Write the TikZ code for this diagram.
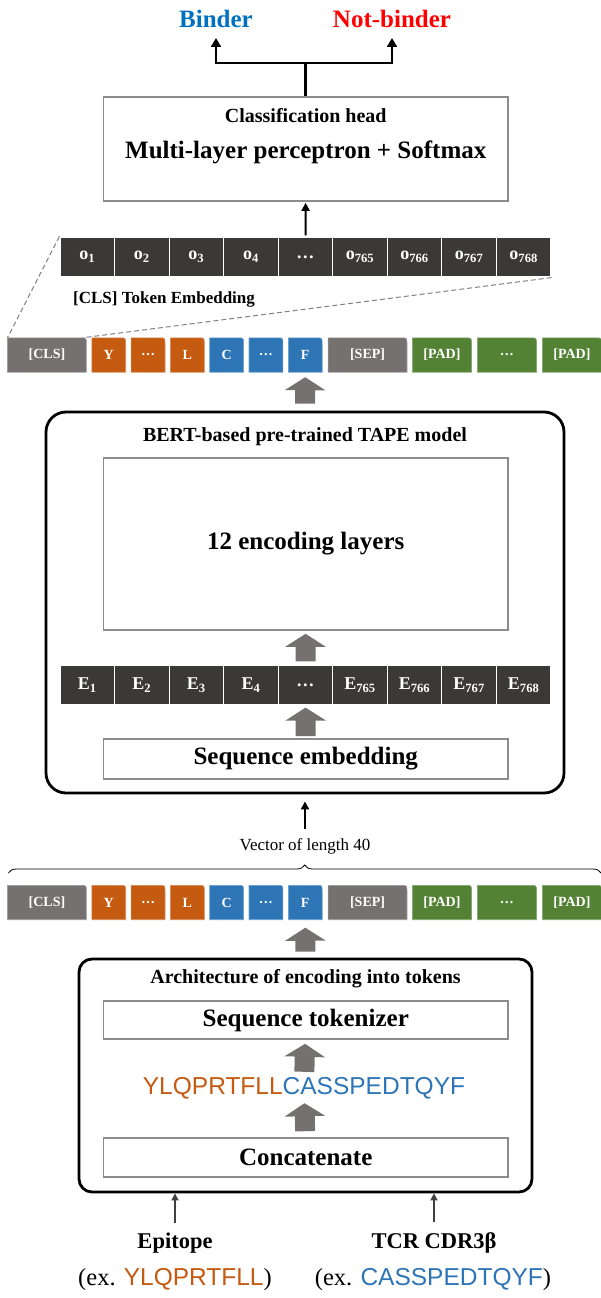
\documentclass[tikz,border=0pt]{standalone}
\usepackage{fontspec}
\setmainfont{Liberation Serif}
\newfontfamily\seqfont{Liberation Sans}
\usetikzlibrary{arrows.meta, positioning, backgrounds, decorations.pathreplacing}
\definecolor{zdark}{HTML}{3B3838}
\definecolor{zgray}{HTML}{767171}
\definecolor{zorange}{HTML}{C55A11}
\definecolor{zblue}{HTML}{2E75B6}
\definecolor{zgreen}{HTML}{548235}
\definecolor{zframe}{HTML}{8C8C8C}
\definecolor{zbinder}{HTML}{0070C0}
\definecolor{znot}{HTML}{FF0000}
\definecolor{zinput}{HTML}{404040}

\newcommand{\fs}[1]{\fontsize{#1}{#1}\selectfont}
% one row of tokens: #1 = name prefix, #2 = centre y
\newcommand{\tokenrow}[2]{%
  \foreach \nm/\x/\w/\col/\lab in {cls/7.7/78.5/zgray/[CLS], y/92/33.5/zorange/Y,
      ydots/131.3/33.5/zorange/\dots, l/170.6/33.5/zorange/L, c/209.9/33.5/zblue/C,
      cdots/249.2/33.5/zblue/\dots, f/288.5/33.5/zblue/F, sep/328.3/78.5/zgray/[SEP],
      pada/412.6/58.7/zgreen/[PAD], pdots/477.6/58.7/zgreen/\dots, padb/542.6/58.7/zgreen/[PAD]} {
    \node[tok, minimum width=\w*1pt] (#1\nm) at (\x+\w/2, #2) {\lab};
    \begin{scope}[on background layer]
      \filldraw[fill=\col, draw=\col!70!white, line width=0.6pt]
        (#1\nm.south west) -- (#1\nm.north west) -- ([xshift=-6pt]#1\nm.north east)
        .. controls (#1\nm.north east) .. ([yshift=-6pt]#1\nm.north east)
        -- (#1\nm.south east) -- cycle;
    \end{scope}
  }%
}

\begin{document}
\begin{tikzpicture}[x=1pt, y=-1pt,
  frame/.style={draw=zframe, line width=1.6pt, minimum width=404.5pt, inner sep=0pt,
                font=\bfseries\fs{25}},
  outer/.style={draw=black, line width=2.8pt},
  cell/.style={fill=zdark, draw=white, line width=1.2pt, minimum width=54.55pt,
               minimum height=40pt, inner sep=0pt, text=white, font=\bfseries\fs{18}},
  tok/.style={minimum height=34pt, inner sep=0pt, text=white, font=\bfseries\fs{14}},
  big/.style={font=\bfseries\fs{25}, inner sep=0pt},
  title/.style={font=\bfseries\fs{20}, inner sep=0pt},
  fat/.style={zgray, line width=20pt, -{Triangle[length=13pt, width=40pt]}},
  thinarr/.style={black, line width=2pt, -{Triangle[length=8pt, width=8pt]}},
  outarr/.style={black, line width=2.6pt, -{Triangle[length=9pt, width=10pt]}},
  inarr/.style={zinput, line width=1.8pt, -{Triangle[length=7pt, width=7pt]}},
  zoomline/.style={gray, line width=1pt, dash pattern=on 5pt off 3pt}
]
\useasboundingbox (0,0) rectangle (601,1298);

% outputs
\node[big, text=zbinder] (binder)    at (216,19) {Binder};
\node[big, text=znot]    (notbinder) at (392,19) {Not-binder};

% classification head
\node[frame, minimum height=104pt] (head) at (305.75,149) {};
\node[title] (headtitle) at (305.75,116) {Classification head};
\node[big]   (mlp)       at (305.75,152) {Multi-layer perceptron + Softmax};
\coordinate (fork) at (305.75,63);
\draw[outarr, shorten >=10pt] (head.north) -- (fork) -| (binder);
\draw[outarr, shorten >=10pt] (head.north) -- (fork) -| (notbinder);

% [CLS] token embedding
\foreach \i/\lab in {1/o\textsubscript{1}, 2/o\textsubscript{2}, 3/o\textsubscript{3},
    4/o\textsubscript{4}, 5/\dots, 6/o\textsubscript{765}, 7/o\textsubscript{766},
    8/o\textsubscript{767}, 9/o\textsubscript{768}}
  \node[cell] (ocell\i) at ({60+54.55*(\i-0.5)},257) {\lab};
\node[font=\bfseries\fs{17}, anchor=west, inner sep=0pt] (clsemb) at (73,299) {[CLS] Token Embedding};
\draw[thinarr, shorten <=1pt, shorten >=1pt] (ocell5) -- (head);

% output tokens
\tokenrow{ta}{355}
\draw[zoomline] (ocell1.north west) -- (tacls.north west);
\draw[zoomline] (ocell9.south east) -- ([xshift=-4pt]tacls.north east);

% TAPE model
\node[outer, rounded corners=20pt, minimum width=518pt, minimum height=381pt] (tape) at (305,602.5) {};
\node[title] (tapetitle) at (305,437) {BERT-based pre-trained TAPE model};
\node[frame, minimum height=172pt] (enc) at (305.75,544) {12 encoding layers};
\foreach \i/\lab in {1/E\textsubscript{1}, 2/E\textsubscript{2}, 3/E\textsubscript{3},
    4/E\textsubscript{4}, 5/\dots, 6/E\textsubscript{765}, 7/E\textsubscript{766},
    8/E\textsubscript{767}, 9/E\textsubscript{768}}
  \node[cell] (ecell\i) at ({60+54.55*(\i-0.5)},685) {\lab};
\node[frame, minimum height=40pt] (seqemb) at (305.75,759) {Sequence embedding};

\draw[fat, shorten <=7pt, shorten >=5pt] (tape.north) -- (taf.south);
\draw[fat, shorten <=3pt, shorten >=3pt] (ecell5) -- (enc);
\draw[fat, shorten <=2pt, shorten >=2pt] (seqemb) -- (ecell5);

% vector of length 40
\node[font=\fs{17}, inner sep=0pt] (veclab) at (305,846) {Vector of length 40};
\draw[thinarr, shorten <=9pt, shorten >=7pt] (veclab) -- (tape);
\coordinate (bl) at (8.4,873);
\coordinate (br) at (601,873);
\draw[decorate, decoration={brace, amplitude=8pt}, line width=0.8pt] (bl) -- (br);

% input tokens
\tokenrow{tb}{902.5}

% encoding into tokens
\node[outer, rounded corners=13pt, minimum width=453pt, minimum height=233pt] (arch) at (305.5,1075.5) {};
\node[title] (archtitle) at (305.5,979) {Architecture of encoding into tokens};
\node[frame, minimum height=38pt] (tokenizer) at (305.75,1020) {Sequence tokenizer};
\node[font=\seqfont\fs{24.5}, inner sep=0pt, text height=18pt, text depth=0pt] (seq) at (304,1085)
  {\textcolor{zorange}{YLQPRTFLL}\textcolor{zblue}{CASSPEDTQYF}};
\node[frame, minimum height=39pt] (concat) at (305.75,1157.5) {Concatenate};

\draw[fat, shorten <=6pt, shorten >=8pt] (arch.north) -- (tbf.south);
\draw[fat, shorten <=4pt, shorten >=4pt] (seq) -- (tokenizer);
\draw[fat, shorten <=6pt, shorten >=9pt] (concat) -- (seq);

% inputs
\node[font=\bfseries\fs{22.5}, inner sep=0pt] (epi) at (175,1243) {Epitope};
\node[font=\bfseries\fs{22.5}, inner sep=0pt] (tcr) at (434,1243) {TCR CDR3β};
\node[font=\fs{24.5}, inner sep=0pt] (epiex) at (175,1280) {(ex. {\seqfont\color{zorange}YLQPRTFLL})};
\node[font=\fs{24.5}, inner sep=0pt] (tcrex) at (433,1280) {(ex. {\seqfont\color{zblue}CASSPEDTQYF})};
\draw[inarr, shorten <=10pt] (epi) -- (epi |- arch.south);
\draw[inarr, shorten <=10pt] (tcr) -- (tcr |- arch.south);
\end{tikzpicture}
\end{document}
